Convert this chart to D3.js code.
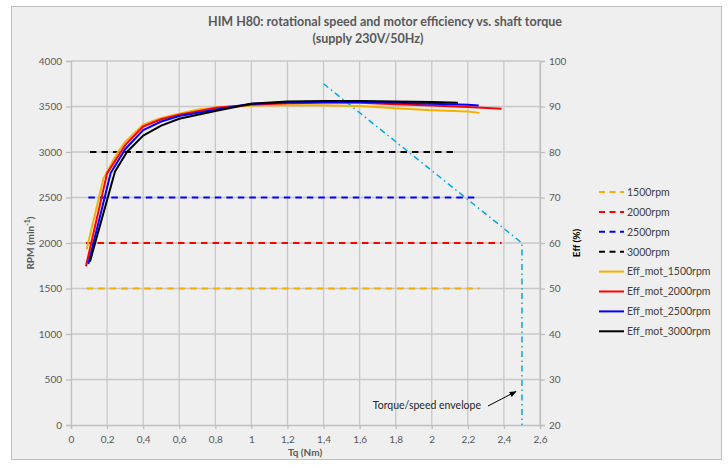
<!DOCTYPE html>
<html><head><meta charset="utf-8">
<script src="https://cdn.jsdelivr.net/npm/d3@7"></script>
<style>
body{margin:0;background:#fff;}
svg{display:block;font-family:Lato,"Liberation Sans",sans-serif;}
</style></head>
<body>
<svg id="c" width="728" height="468"></svg>
<script>
// ---- data ----
const xTicks = [0,0.2,0.4,0.6,0.8,1,1.2,1.4,1.6,1.8,2,2.2,2.4,2.6];
const xTickLabels = ["0","0,2","0,4","0,6","0,8","1","1,2","1,4","1,6","1,8","2","2,2","2,4","2,6"];
const rpmTicks = [0,500,1000,1500,2000,2500,3000,3500,4000];
const effTicks = [20,30,40,50,60,70,80,90,100];

const seriesNames = ["1500rpm","2000rpm","2500rpm","3000rpm"];
const seriesColors = ["#f5b000","#ff0000","#0000ff","#000000"];
const speedLevels = [1500,2000,2500,3000];
const torqueRange = [[0.087,2.265],[0.083,2.387],[0.096,2.26],[0.105,2.145]];

const eff1500 = [[0.087,58.6],[0.18,74.2],[0.26,80],[0.3,82.2],[0.4,86.0],[0.5,87.5],[0.6,88.4],[0.7,89.3],[0.8,89.8],[1.0,90.2],[1.2,90.3],[1.4,90.3],[1.6,90.1],[1.8,89.6],[2.0,89.2],[2.2,88.9],[2.265,88.6]];
const eff2000 = [[0.083,54.9],[0.2,75.3],[0.3,81.5],[0.4,85.6],[0.5,87.2],[0.6,88.2],[0.8,89.7],[1.0,90.4],[1.2,90.7],[1.4,90.8],[1.6,90.8],[1.8,90.5],[2.0,90.2],[2.2,89.9],[2.387,89.5]];
const eff2500 = [[0.096,55.4],[0.22,75.4],[0.3,80.6],[0.4,84.8],[0.5,86.7],[0.6,87.9],[0.8,89.3],[1.0,90.6],[1.2,90.9],[1.4,91.0],[1.6,91.0],[1.8,90.8],[2.0,90.6],[2.2,90.4],[2.26,90.2]];
const eff3000 = [[0.105,55.9],[0.244,75.7],[0.31,80],[0.4,83.6],[0.5,85.8],[0.6,87.3],[0.8,89.0],[1.0,90.6],[1.2,91.1],[1.4,91.2],[1.6,91.2],[1.8,91.1],[2.0,91.0],[2.145,90.8]];
const effSeries = [eff1500,eff2000,eff2500,eff3000];

const envelope = [[1.4,3750],[2.5,2000],[2.5,0]];

// ---- layout ----
const svg = d3.select("#c");
const L=71, R=540, T=61, B=425;
svg.append("rect").attr("x",11.5).attr("y",6.5).attr("width",710).attr("height",453)
  .attr("fill","#efefef").attr("stroke","#bfbfbf").attr("stroke-width",1);

const x = d3.scaleLinear().domain([0,2.6]).range([L,R]);
const yL = d3.scaleLinear().domain([0,4000]).range([B,T]);
const yR = d3.scaleLinear().domain([20,100]).range([B,T]);

const grid = svg.append("g");
grid.selectAll("line.h").data(rpmTicks.slice(1)).join("line")
  .attr("x1",L).attr("x2",R).attr("y1",d=>yL(d)).attr("y2",d=>yL(d))
  .attr("stroke","#c8c8c8").attr("stroke-width",1.3);
grid.selectAll("line.v").data(xTicks.slice(1)).join("line")
  .attr("y1",T).attr("y2",B).attr("x1",d=>x(d)).attr("x2",d=>x(d))
  .attr("stroke","#c8c8c8").attr("stroke-width",1.3);

const tickColor="#595959";
const ax = svg.append("g").attr("transform",`translate(0,${B})`)
  .call(d3.axisBottom(x).tickValues(xTicks).tickFormat((d,i)=>xTickLabels[i]).tickSize(4).tickPadding(7));
const ayL = svg.append("g").attr("transform",`translate(${L},0)`)
  .call(d3.axisLeft(yL).tickValues(rpmTicks).tickFormat(d3.format("d")).tickSize(5).tickPadding(4));
const ayR = svg.append("g").attr("transform",`translate(${R},0)`)
  .call(d3.axisRight(yR).tickValues(effTicks).tickFormat(d3.format("d")).tickSize(5).tickPadding(4));
[ax,ayL,ayR].forEach(g=>{
  g.select(".domain").attr("stroke","#bfbfbf").attr("stroke-width",1.3);
  g.selectAll(".tick line").attr("stroke","#bfbfbf").attr("stroke-width",1.3);
  g.selectAll(".tick text").attr("fill",tickColor).attr("font-size",10).attr("font-family","Lato");
});

// constant speed dashed lines
const dashG = svg.append("g");
speedLevels.forEach((s,i)=>{
  dashG.append("line").attr("x1",x(torqueRange[i][0])).attr("x2",x(torqueRange[i][1]))
    .attr("y1",yL(s)).attr("y2",yL(s))
    .attr("stroke",seriesColors[i]).attr("stroke-width",2).attr("stroke-dasharray","6.5,5");
});

// envelope
const lineL = d3.line().x(d=>x(d[0])).y(d=>yL(d[1]));
svg.append("path").attr("d",lineL(envelope)).attr("fill","none")
  .attr("stroke","#00a8e8").attr("stroke-width",1.5).attr("stroke-dasharray","6,3.5,1.5,3.5");

// efficiency curves
const lineR = d3.line().x(d=>x(d[0])).y(d=>yR(d[1]));
effSeries.forEach((s,i)=>{
  svg.append("path").attr("d",lineR(s)).attr("fill","none")
    .attr("stroke",seriesColors[i]).attr("stroke-width",2).attr("stroke-linejoin","round");
});

// title
svg.append("text").attr("x",385).attr("y",26).attr("text-anchor","middle")
  .attr("font-weight","bold").attr("font-size",12.5).attr("fill","#595959")
  .text("HIM H80: rotational speed and motor efficiency vs. shaft torque");
svg.append("text").attr("x",368).attr("y",43).attr("text-anchor","middle")
  .attr("font-weight","bold").attr("font-size",12.5).attr("fill","#595959")
  .text("(supply 230V/50Hz)");

// axis titles
svg.append("text").attr("transform","translate(34,243) rotate(-90)").attr("text-anchor","middle")
  .attr("font-weight","bold").attr("font-size",10).attr("fill","#595959")
  .html('RPM (min<tspan dy="-4" font-size="7">-1</tspan><tspan dy="4">)</tspan>');
svg.append("text").attr("transform","translate(580,243) rotate(-90)").attr("text-anchor","middle")
  .attr("font-weight","bold").attr("font-size",10).attr("fill","#000")
  .text("Eff (%)");
svg.append("text").attr("x",305).attr("y",456).attr("text-anchor","middle")
  .attr("font-weight","bold").attr("font-size",10).attr("fill","#595959")
  .text("Tq (Nm)");

// legend
const legendItems = seriesNames.map((n,i)=>({name:n,color:seriesColors[i],dash:true}))
  .concat(seriesNames.map((n,i)=>({name:"Eff_mot_"+n,color:seriesColors[i],dash:false})));
const lg = svg.append("g");
legendItems.forEach((d,i)=>{
  const yy = 192 + i*19.9;
  lg.append("line").attr("x1",599).attr("x2",624).attr("y1",yy).attr("y2",yy)
    .attr("stroke",d.color).attr("stroke-width",2).attr("stroke-dasharray",d.dash?"6,4.5":null);
  lg.append("text").attr("x",627).attr("y",yy+3.8).attr("font-size",10.5).attr("fill","#404040").text(d.name);
});

// annotation
svg.append("defs").append("marker").attr("id","ah").attr("viewBox","0 0 10 10")
  .attr("refX",9).attr("refY",5).attr("markerWidth",7).attr("markerHeight",7).attr("orient","auto")
  .append("path").attr("d","M0,1 L10,5 L0,9 z").attr("fill","#000");
svg.append("text").attr("x",481).attr("y",409).attr("text-anchor","end")
  .attr("font-size",10.5).attr("fill","#262626").text("Torque/speed envelope");
svg.append("line").attr("x1",488).attr("y1",406).attr("x2",516).attr("y2",391.5)
  .attr("stroke","#000").attr("stroke-width",1).attr("marker-end","url(#ah)");
</script>
</body></html>
